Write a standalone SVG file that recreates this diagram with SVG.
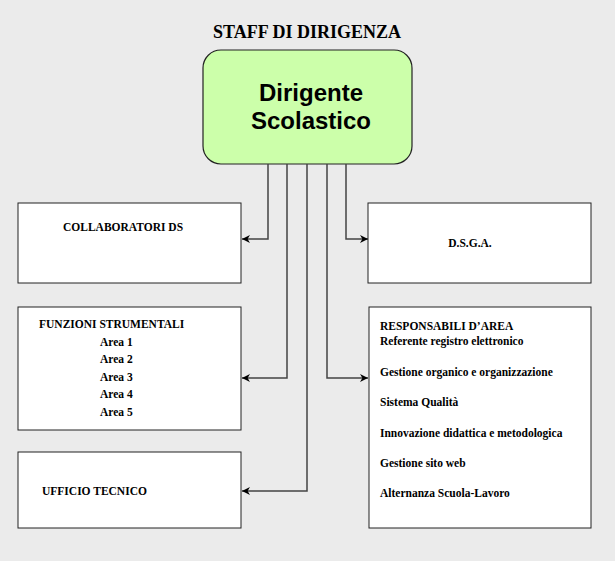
<svg xmlns="http://www.w3.org/2000/svg" width="615" height="561" viewBox="0 0 615 561">
<style>
.b{fill:#fff;stroke:#222;stroke-width:1}
.t{font-family:"Liberation Serif",serif;font-weight:bold;font-size:11.5px;fill:#000}
.c{fill:none;stroke:#444;stroke-width:1.5}
</style>
<defs><marker id="a" viewBox="0 0 10 10" refX="10" refY="5" markerWidth="10" markerHeight="8" orient="auto" markerUnits="userSpaceOnUse"><path d="M0,0L10,5L0,10L3,5z" fill="#000"/></marker></defs>
<rect width="615" height="561" fill="#ebebeb"/>
<text x="307" y="38" text-anchor="middle" style="font-family:'Liberation Serif',serif;font-weight:bold;font-size:18px">STAFF DI DIRIGENZA</text>
<g id="ds"><rect x="203" y="50" width="209" height="114" rx="18" fill="#ccffaa" stroke="#222" stroke-width="1.2"/>
<text x="311" y="101" text-anchor="middle" style="font-family:'Liberation Sans',sans-serif;font-weight:bold;font-size:24px">Dirigente</text>
<text x="311" y="129" text-anchor="middle" style="font-family:'Liberation Sans',sans-serif;font-weight:bold;font-size:24px">Scolastico</text></g>
<g id="connectors">
<path class="c" d="M268,164V239H242" marker-end="url(#a)"/>
<path class="c" d="M287,164V378H242" marker-end="url(#a)"/>
<path class="c" d="M307,164V491H242" marker-end="url(#a)"/>
<path class="c" d="M327,164V378H368" marker-end="url(#a)"/>
<path class="c" d="M346,164V239H368" marker-end="url(#a)"/>
</g>
<g id="collab"><rect class="b" x="18" y="203" width="223" height="80"/><text class="t" x="63" y="231">COLLABORATORI DS</text></g>
<g id="dsga"><rect class="b" x="368" y="203" width="223" height="80"/><text class="t" x="470" y="247" text-anchor="middle">D.S.G.A.</text></g>
<g id="funzioni"><rect class="b" x="18" y="307" width="223" height="123"/>
<text class="t" x="39" y="328">FUNZIONI STRUMENTALI</text>
<text class="t" x="100" y="346">Area 1</text><text class="t" x="100" y="363">Area 2</text><text class="t" x="100" y="381">Area 3</text><text class="t" x="100" y="398">Area 4</text><text class="t" x="100" y="416">Area 5</text></g>
<g id="ufficio"><rect class="b" x="18" y="452" width="223" height="76"/><text class="t" x="42" y="495">UFFICIO TECNICO</text></g>
<g id="resp"><rect class="b" x="369" y="307" width="222" height="221"/>
<text class="t" x="380" y="330">RESPONSABILI D’AREA</text>
<text class="t" x="380" y="345">Referente registro elettronico</text>
<text class="t" x="380" y="376">Gestione organico e organizzazione</text>
<text class="t" x="380" y="406">Sistema Qualità</text>
<text class="t" x="380" y="437">Innovazione didattica e metodologica</text>
<text class="t" x="380" y="467">Gestione sito web</text>
<text class="t" x="380" y="497">Alternanza Scuola-Lavoro</text></g>
</svg>
